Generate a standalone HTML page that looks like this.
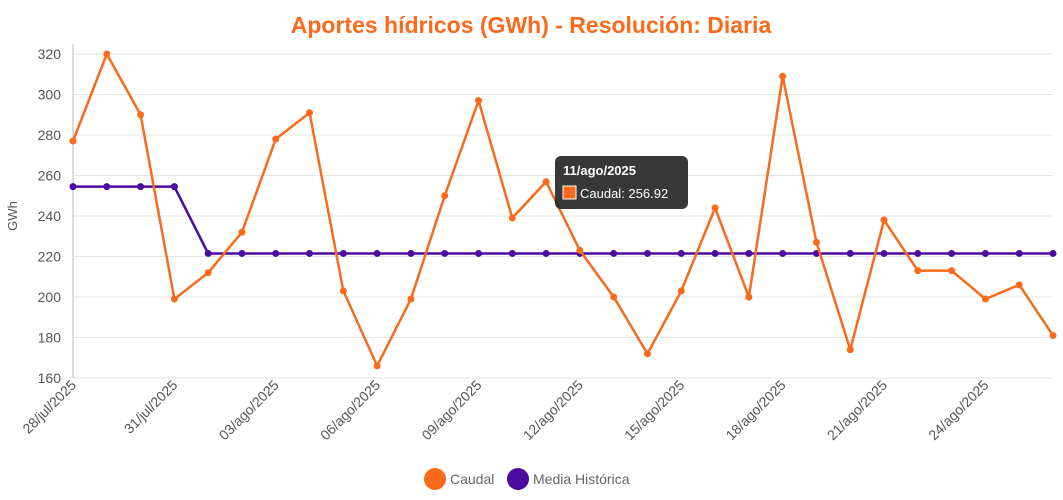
<!DOCTYPE html>
<html><head><meta charset="utf-8"><style>
body{margin:0;background:#fff;font-family:"Liberation Sans",sans-serif;}
svg{display:block}
</style></head><body>
<svg id="chart" width="1063" height="500">
<text x="531" y="33" text-anchor="middle" font-size="23" font-weight="bold" fill="#fa6a1a">Aportes hídricos (GWh) - Resolución: Diaria</text>
<text transform="translate(17,216) rotate(-90)" text-anchor="middle" font-size="13" fill="#555">GWh</text>
<g id="grid"></g><g id="xlabels"></g><g id="series"></g>
<g>
<g><circle cx="435" cy="479" r="11" fill="#fa6a1a"/><text x="450" y="484" font-size="14" fill="#666">Caudal</text></g>
<g><circle cx="518" cy="479" r="11" fill="#4b0aa0"/><text x="533" y="484" font-size="14" fill="#666">Media Histórica</text></g>
</g>
<g>
<rect x="555" y="156" width="133" height="53" rx="6" fill="#222" opacity="0.9"/>
<text x="563" y="175" font-size="13" font-weight="bold" fill="#fff">11/ago/2025</text>
<rect x="563" y="186" width="13" height="13" fill="#fa6a1a" stroke="#fff" stroke-width="1"/>
<text x="580" y="198" font-size="13" fill="#fff">Caudal: 256.92</text>
</g>
</svg>
<script>
const dates=["28/jul/2025","29/jul/2025","30/jul/2025","31/jul/2025","01/ago/2025","02/ago/2025","03/ago/2025","04/ago/2025","05/ago/2025","06/ago/2025","07/ago/2025","08/ago/2025","09/ago/2025","10/ago/2025","11/ago/2025","12/ago/2025","13/ago/2025","14/ago/2025","15/ago/2025","16/ago/2025","17/ago/2025","18/ago/2025","19/ago/2025","20/ago/2025","21/ago/2025","22/ago/2025","23/ago/2025","24/ago/2025","25/ago/2025","26/ago/2025"];
const caudal=[277,320,290,199,212,232,278,291,203,166,199,250,297,239,256.92,223,200,172,203,244,200,309,227,174,238,213,213,199,206,181];
const media=[254.5,254.5,254.5,254.5,221.5,221.5,221.5,221.5,221.5,221.5,221.5,221.5,221.5,221.5,221.5,221.5,221.5,221.5,221.5,221.5,221.5,221.5,221.5,221.5,221.5,221.5,221.5,221.5,221.5,221.5];
const yTicks=[160,180,200,220,240,260,280,300,320];
const NS="http://www.w3.org/2000/svg";
const x=i=>73+i*(1053-73)/(dates.length-1);
const y=v=>378-(v-160)*(378-54)/160;
function mk(t,a,p){const e=document.createElementNS(NS,t);for(const k in a)e.setAttribute(k,a[k]);p.appendChild(e);return e;}
const grid=document.getElementById('grid');
yTicks.forEach(v=>{
const l=mk('line',{x1:73,x2:1053,y1:y(v),y2:y(v),stroke:'#e5e5e5'},grid);


const t=mk('text',{x:61,y:y(v)+5,'text-anchor':'end','font-size':14,fill:'#555'},grid);t.textContent=v;


});
mk('line',{x1:73,x2:73,y1:44,y2:378,stroke:'#bbb'},grid);
const xl=document.getElementById('xlabels');
dates.forEach((d,i)=>{if(i%3)return;
const t=mk('text',{transform:`translate(${x(i)+4},${386}) rotate(-45)`,'text-anchor':'end','font-size':14,fill:'#555'},xl);t.textContent=d;


});
const s=document.getElementById('series');
function draw(arr,col,name){
const p=mk('polyline',{points:arr.map((v,i)=>x(i)+','+y(v)).join(' '),fill:'none',stroke:col,'stroke-width':2.5},s);


arr.forEach((v,i)=>{const c=mk('circle',{cx:x(i),cy:y(v),r:3.5,fill:col},s);

});
}
draw(media,'#4b0aa0','media-historica');
draw(caudal,'#fa6a1a','caudal');
</script>
</body></html>
